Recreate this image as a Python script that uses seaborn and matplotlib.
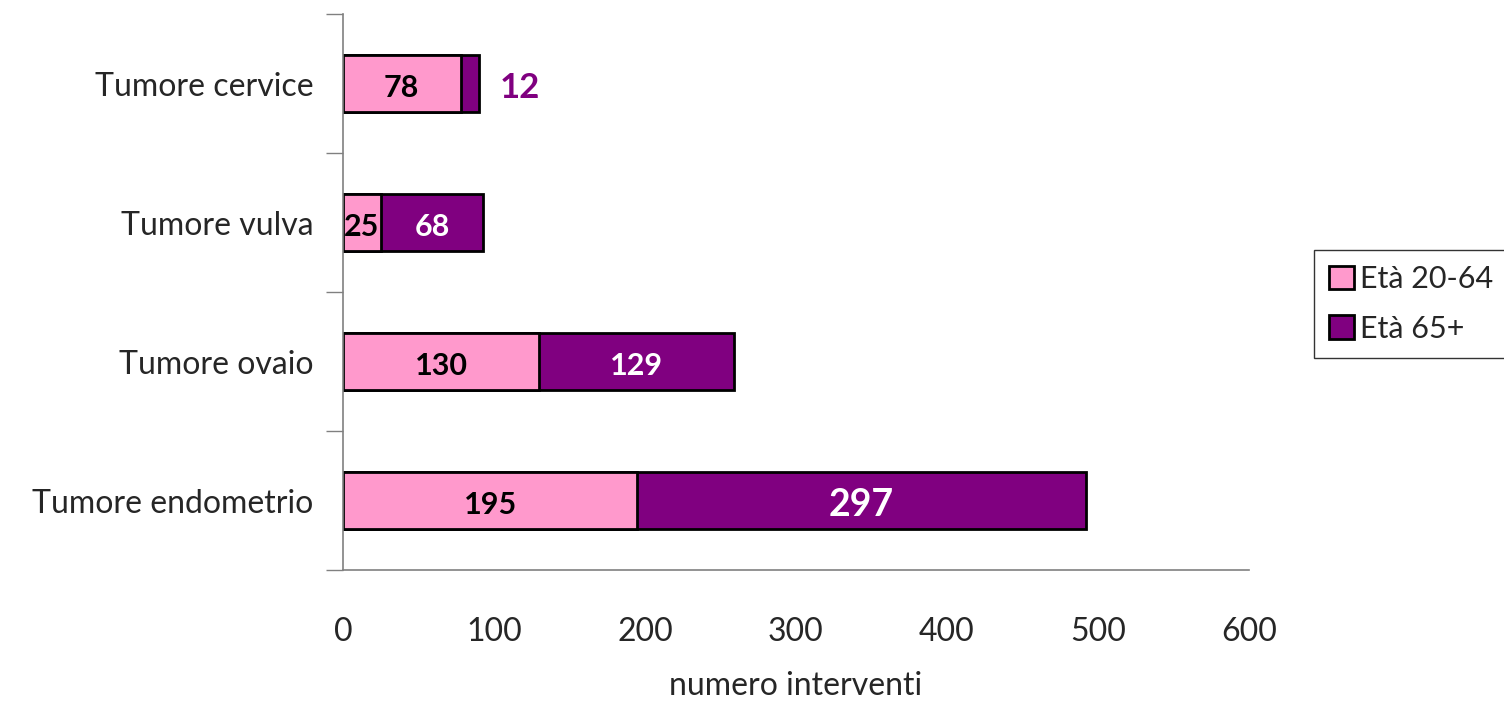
import matplotlib
matplotlib.use("Agg")
import matplotlib.pyplot as plt
import seaborn as sns
import pandas as pd
from matplotlib.patches import Patch

# dati
categorie = ['Tumore cervice', 'Tumore vulva', 'Tumore ovaio', 'Tumore endometrio']
eta_20_64 = [78, 25, 130, 195]
eta_65 = [12, 68, 129, 297]
serie = ['Età 20-64', 'Età 65+']

ROSA = '#FF99CC'
VIOLA = '#800080'

sns.set_style('white')
plt.rcParams['font.family'] = ['Lato', 'DejaVu Sans']

df = pd.DataFrame({'categoria': categorie, 'giovani': eta_20_64, 'anziani': eta_65})
df['totale'] = df['giovani'] + df['anziani']

fig = plt.figure(figsize=(15.04, 7.06), dpi=100)
ax = fig.add_axes([0.228, 0.1926, 0.6024, 0.7875])

# barre impilate: prima il totale (viola), poi la parte 20-64 sopra (rosa)
sns.barplot(data=df, y='categoria', x='totale', order=categorie, color=VIOLA,
            width=0.41, edgecolor='black', linewidth=2, saturation=1, ax=ax)
sns.barplot(data=df, y='categoria', x='giovani', order=categorie, color=ROSA,
            width=0.41, edgecolor='black', linewidth=2, saturation=1, ax=ax)

# etichette dei valori (leggermente sotto il centro, come nell'originale)
for i, row in df.iterrows():
    g, a = row['giovani'], row['anziani']
    ax.text(g / 2, i + 0.03, str(g), ha='center', va='center', fontsize=22,
            fontweight='bold', color='black')
    if a < 30:
        ax.text(row['totale'] + 14, i + 0.03, str(a), ha='left', va='center',
                fontsize=25, fontweight='bold', color=VIOLA)
    else:
        ax.text(g + a / 2, i + 0.03, str(a), ha='center', va='center',
                fontsize=27 if a > 200 else 22, fontweight='bold', color='white')

ax.set_xlim(0, 600)
ax.set_ylim(3.5, -0.5)
ax.set_xticks(range(0, 601, 100))
ax.tick_params(axis='x', labelsize=23, length=10, width=1, color='black', pad=24)

# tacche y ai confini delle categorie, etichette al centro
ax.set_yticks([-0.5, 0.5, 1.5, 2.5, 3.5])
ax.set_yticklabels([])
ax.set_yticks(range(len(categorie)), minor=True)
ax.set_yticklabels(categorie, minor=True)
ax.tick_params(axis='y', which='major', length=12, width=1, color='#808080', left=True)
ax.tick_params(axis='y', which='minor', length=0, labelsize=23, pad=21)

ax.set_xlabel('numero interventi', fontsize=23, labelpad=17)
ax.set_ylabel('')

for lato in ['top', 'right']:
    ax.spines[lato].set_visible(False)
ax.spines['left'].set_color('#808080')
ax.spines['bottom'].set_color('#808080')
ax.spines['left'].set_linewidth(1.2)
ax.spines['bottom'].set_linewidth(1.2)

maniglie = [Patch(facecolor=ROSA, edgecolor='black', linewidth=2, label=serie[0]),
            Patch(facecolor=VIOLA, edgecolor='black', linewidth=2, label=serie[1])]
leg = fig.legend(handles=maniglie, loc='upper left', bbox_to_anchor=(0.8737, 0.646),
                 borderaxespad=0, fontsize=22, frameon=True, fancybox=False,
                 edgecolor='black', handlelength=0.8, handleheight=0.8,
                 handletextpad=0.2, labelspacing=0.7, borderpad=0.5)
leg.get_frame().set_linewidth(1)

fig.savefig('out.png', dpi=100)
